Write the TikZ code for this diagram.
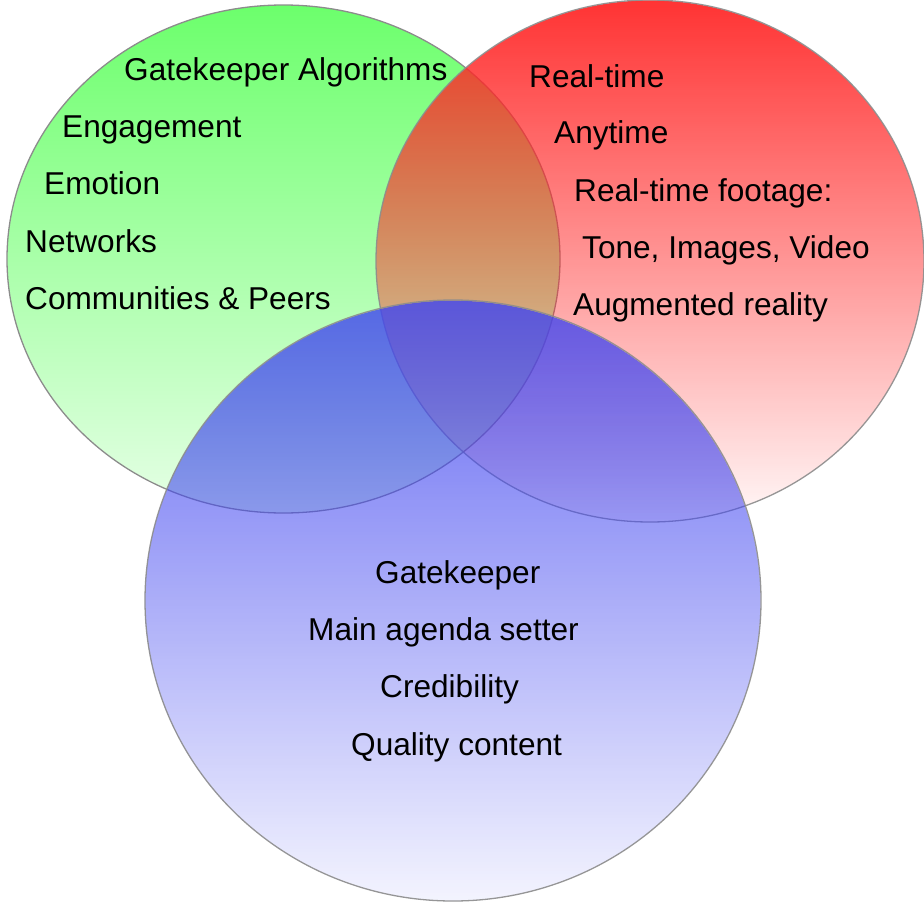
\documentclass[tikz,border=0pt]{standalone}
\usepackage{fontspec}
\setmainfont{Liberation Sans}
\usetikzlibrary{fadings}
\tikzfading[name=redfade, top color=transparent!5, bottom color=transparent!97]
\tikzfading[name=bluefade, top color=transparent!18, bottom color=transparent!94]
\begin{document}
\begin{tikzpicture}[x=1pt,y=-1pt,
  rim/.style={draw=black!45, line width=1.3pt},
  label/.style={anchor=base west, inner sep=0pt, font=\fontsize{31.6}{38}\selectfont}]
\definecolor{gtop}{RGB}{108,255,108}
\definecolor{gbot}{RGB}{230,255,230}
\definecolor{redset}{RGB}{255,40,40}
\definecolor{blueset}{RGB}{65,70,240}
\useasboundingbox (0,0) rectangle (924,902);

% green set: opaque vertical gradient
\shade[top color=gtop, bottom color=gbot] (283.5,259) ellipse [x radius=276.5, y radius=254];
\draw[rim] (283.5,259) ellipse [x radius=276.5, y radius=254];

% red set: solid colour whose opacity fades downwards
\fill[redset, path fading=redfade] (650,261) ellipse [x radius=274, y radius=261];
\draw[rim, draw opacity=0.9] (650,261) ellipse [x radius=274, y radius=261];

% blue set: solid colour whose opacity fades downwards
\fill[blueset, path fading=bluefade] (453,600.5) ellipse [x radius=308, y radius=300.5];
\draw[rim, draw opacity=0.9] (453,600.5) ellipse [x radius=308, y radius=300.5];

% labels of the green set
\node[label] (g1) at (124,80) {Gatekeeper Algorithms};
\node[label] (g2) at (62,137) {Engagement};
\node[label] (g3) at (44,194) {Emotion};
\node[label] (g4) at (25,252) {Networks};
\node[label] (g5) at (25,309) {Communities \& Peers};

% labels of the red set
\node[label] (r1) at (529,87) {Real-time};
\node[label] (r2) at (554,143) {Anytime};
\node[label] (r3) at (574,201) {Real-time footage:};
\node[label] (r4) at (582,258) {Tone, Images, Video};
\node[label] (r5) at (573,315) {Augmented reality};

% labels of the blue set
\node[label] (b1) at (375,583) {Gatekeeper};
\node[label] (b2) at (308,640) {Main agenda setter};
\node[label] (b3) at (380,697) {Credibility};
\node[label] (b4) at (351,755) {Quality content};
\end{tikzpicture}
\end{document}
